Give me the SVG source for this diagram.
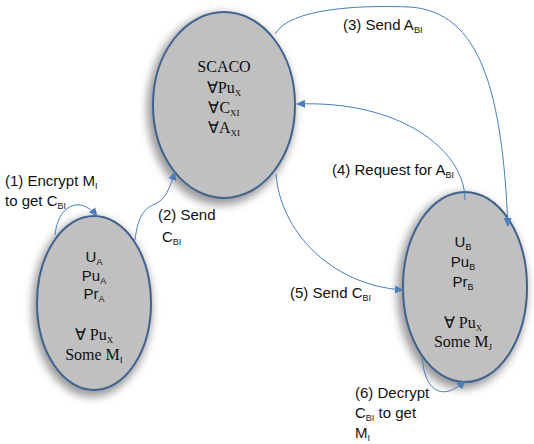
<svg xmlns="http://www.w3.org/2000/svg" width="534" height="444" viewBox="0 0 534 444">
<style>
.node{fill:#c0c0c0;stroke:#3f628f;stroke-width:2}
.sh{fill:#9a9a9a;filter:url(#blur)}
.edge{fill:none;stroke:#4a7ebb;stroke-width:1}
.lbl{font-family:"Liberation Sans",Arial,sans-serif;font-size:15px;fill:#111}
.ser{font-family:"Liberation Serif","Times New Roman",serif;font-size:16px;fill:#111;text-anchor:middle}
.san{font-family:"Liberation Sans",Arial,sans-serif;font-size:15px;fill:#111;text-anchor:middle}
.sub{font-size:9px}
</style>
<defs>
<filter id="blur" x="-20%" y="-20%" width="140%" height="140%"><feGaussianBlur stdDeviation="4"/></filter>
<marker id="arr" markerWidth="10" markerHeight="10" refX="8" refY="5" orient="auto" markerUnits="userSpaceOnUse">
<path d="M0,1 L9,5 L0,9 Z" fill="#4a7ebb"/>
</marker>
</defs>
<rect width="534" height="444" fill="#fff"/>
<g id="node-scaco">
<ellipse class="sh" cx="221" cy="109" rx="74" ry="96"/>
<ellipse class="node" cx="224" cy="105" rx="71" ry="93"/>
<text class="ser" x="224" y="72">SCACO</text>
<text class="ser" x="224" y="93">∀Pu<tspan class="sub" dy="3">X</tspan></text>
<text class="ser" x="224" y="113">∀C<tspan class="sub" dy="3">XI</tspan></text>
<text class="ser" x="224" y="133">∀A<tspan class="sub" dy="3">XI</tspan></text>
</g>
<g id="node-a">
<ellipse class="sh" cx="92" cy="307" rx="60" ry="90"/>
<ellipse class="node" cx="94" cy="303" rx="57" ry="87"/>
<text class="san" x="94" y="262">U<tspan class="sub" dy="3">A</tspan></text>
<text class="san" x="94" y="281">Pu<tspan class="sub" dy="3">A</tspan></text>
<text class="san" x="94" y="299">Pr<tspan class="sub" dy="3">A</tspan></text>
<text class="ser" x="94" y="340">∀ Pu<tspan class="sub" dy="3">X</tspan></text>
<text class="ser" x="94" y="360">Some M<tspan class="sub" dy="3">I</tspan></text>
</g>
<g id="node-b">
<ellipse class="sh" cx="462" cy="291" rx="65" ry="98"/>
<ellipse class="node" cx="465" cy="287" rx="62" ry="95"/>
<text class="san" x="463" y="247">U<tspan class="sub" dy="3">B</tspan></text>
<text class="san" x="463" y="267">Pu<tspan class="sub" dy="3">B</tspan></text>
<text class="san" x="463" y="287">Pr<tspan class="sub" dy="3">B</tspan></text>
<text class="ser" x="463" y="328">∀ Pu<tspan class="sub" dy="3">X</tspan></text>
<text class="ser" x="463" y="347">Some M<tspan class="sub" dy="3">J</tspan></text>
</g>
<g id="connectors">
<path class="edge" marker-end="url(#arr)" d="M55,235 C58,205 80,195 97,216"/>
<path class="edge" marker-end="url(#arr)" d="M135,240 C138,215 145,208 155,204 C165,200 169,190 175,172"/>
<path class="edge" marker-end="url(#arr)" d="M275,34 C290,8 360,5 410,7 C480,12 502,90 508,226"/>
<path class="edge" marker-end="url(#arr)" d="M465,200 C465,150 400,100 297,104"/>
<path class="edge" marker-end="url(#arr)" d="M276,174 C280,230 330,285 403,290"/>
<path class="edge" marker-end="url(#arr)" d="M422,357 C425,395 445,400 465,381"/>
</g>
<g id="labels">
<text class="lbl" x="5" y="186">(1) Encrypt M<tspan class="sub" dy="3">I</tspan></text>
<text class="lbl" x="5" y="206">to get C<tspan class="sub" dy="3">BI</tspan></text>
<text class="lbl" x="158" y="220">(2) Send</text>
<text class="lbl" x="162" y="242">C<tspan class="sub" dy="3">BI</tspan></text>
<text class="lbl" x="343" y="30">(3) Send A<tspan class="sub" dy="3">BI</tspan></text>
<text class="lbl" x="332" y="175">(4) Request for A<tspan class="sub" dy="3">BI</tspan></text>
<text class="lbl" x="290" y="298">(5) Send C<tspan class="sub" dy="3">BI</tspan></text>
<text class="lbl" x="355" y="398">(6) Decrypt</text>
<text class="lbl" x="355" y="418">C<tspan class="sub" dy="3">BI</tspan><tspan dy="-3"> to get</tspan></text>
<text class="lbl" x="355" y="438">M<tspan class="sub" dy="3">I</tspan></text>
</g>
</svg>
